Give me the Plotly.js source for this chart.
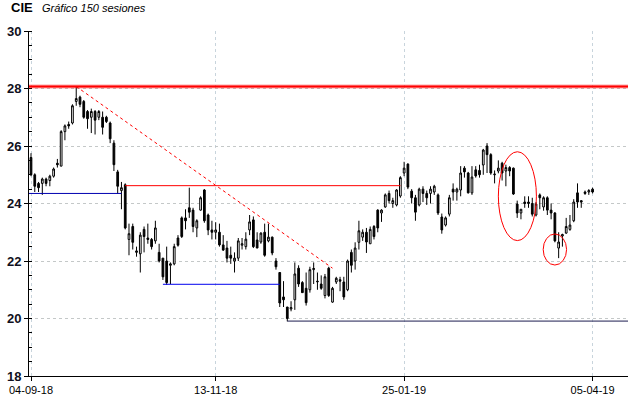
<!DOCTYPE html>
<html><head><meta charset="utf-8">
<script src="https://cdn.plot.ly/plotly-3.0.1.min.js"></script>
<style>html,body{margin:0;padding:0;background:#fff}#chart{width:640px;height:398px}</style>
</head><body><div id="chart"></div>
<script>
const opens = [25.6,25.0,24.7,24.7,24.85,24.8,24.95,25.4,25.3,26.5,26.75,26.8,27.55,27.7,27.55,27.2,27.0,27.2,27.0,27.0,27.0,26.8,26.1,25.1,24.45,24.65,22.75,23.2,22.3,22.25,23.1,22.8,22.75,22.7,22.3,22.1,22.0,21.85,21.9,22.8,23.5,23.5,23.85,23.77,23.15,23.77,24.47,23.6,23.08,23.0,23.0,22.56,22.45,22.2,22.0,22.1,22.55,22.5,23.08,23.43,22.73,22.66,23.0,22.7,22.83,22.0,21.6,20.75,20.4,20.33,20.65,21.75,21.25,21.05,21.0,21.7,21.3,21.2,20.8,21.75,20.57,21.27,21.35,21.27,21.0,22.3,22.0,22.65,22.83,23.0,22.6,23.2,23.77,23.67,23.88,24.35,24.0,23.95,24.26,25.06,25.37,24.43,24.2,23.95,24.5,24.35,24.35,24.4,24.3,23.53,23.25,23.63,24.5,24.4,24.47,25.23,25.06,24.37,25.17,25.15,25.34,26.0,25.7,25.0,25.13,25.4,25.13,25.25,25.23,23.98,23.67,24.05,24.0,24.0,23.6,24.3,23.88,24.2,23.77,23.67,22.45,22.87,22.97,23.1,23.4,24.37,24.1,24.4,24.4,24.5];
const highs = [25.75,25.05,24.75,24.9,24.9,25.0,25.25,25.55,26.55,26.75,26.85,27.45,28.05,27.75,27.6,27.25,27.3,27.25,27.25,27.2,27.05,26.85,26.2,25.17,24.75,24.7,23.3,23.3,22.5,23.0,23.2,23.3,22.8,23.4,22.6,22.1,22.5,21.95,22.6,22.9,23.55,23.8,24.55,23.85,23.45,24.25,24.5,23.65,23.4,23.35,23.3,22.9,22.7,22.5,22.3,22.8,22.8,23.0,23.6,23.55,23.0,23.0,23.3,23.3,22.85,22.1,21.6,21.3,20.4,20.6,21.95,21.85,21.3,21.6,21.8,21.95,21.6,21.5,21.55,21.8,21.1,21.45,21.45,21.45,22.05,22.4,22.65,23.4,23.1,23.15,23.2,23.25,23.8,23.8,24.35,24.45,24.2,24.5,24.95,25.45,25.4,24.5,24.3,24.55,24.6,24.45,24.6,24.65,24.35,23.65,23.55,24.3,24.7,24.55,25.3,25.3,25.1,25.3,25.3,25.35,25.9,26.1,25.75,25.15,25.5,25.45,25.35,25.3,25.25,24.1,23.8,24.25,24.25,24.2,24.05,24.35,24.25,24.25,24.0,23.7,23.0,22.95,23.5,23.6,24.15,24.7,24.1,24.45,24.5,24.55];
const lows = [24.95,24.4,24.4,24.3,24.6,24.6,24.9,25.25,25.3,26.2,26.6,26.75,27.4,27.35,26.95,26.6,26.45,26.4,26.9,26.4,26.8,26.1,25.13,24.33,23.8,23.1,22.2,22.4,22.15,21.6,22.3,22.6,22.4,22.6,21.95,21.34,21.17,21.2,21.85,22.5,22.8,23.1,23.5,23.0,22.83,23.75,23.33,22.9,22.75,22.75,22.5,22.35,21.95,21.9,21.6,22.0,22.4,22.4,22.9,22.45,22.45,22.6,22.15,22.65,22.2,21.7,20.4,20.4,19.9,20.25,20.3,21.1,20.9,20.45,20.9,21.2,21.0,21.0,20.7,20.75,20.55,21.2,20.95,20.65,20.95,21.6,21.7,22.4,22.7,22.28,22.6,22.75,23.0,23.36,23.85,24.0,23.85,23.9,24.2,24.95,24.5,24.0,23.4,23.9,24.05,23.95,24.0,24.3,23.6,22.95,23.2,23.55,24.1,24.1,24.25,24.9,24.35,24.3,24.9,24.9,25.0,25.06,25.0,24.7,25.05,24.8,24.6,24.95,24.3,23.5,23.45,23.85,23.85,23.55,23.55,23.8,23.75,23.6,23.45,22.65,22.1,22.5,22.95,23.05,23.35,23.85,23.85,24.3,24.3,24.35];
const closes = [25.0,24.6,24.55,24.85,24.7,24.95,25.2,25.35,26.5,26.7,26.7,27.4,27.65,27.45,27.0,26.95,27.2,26.9,27.2,26.65,26.85,26.25,25.35,24.6,24.55,23.15,22.95,22.65,22.35,22.9,22.85,22.75,22.5,23.15,22.0,21.45,21.25,21.9,22.5,22.55,22.85,23.4,23.7,23.2,23.4,24.2,23.4,23.08,23.0,23.08,22.56,22.38,22.1,22.1,22.1,22.7,22.6,22.76,23.36,22.5,22.45,22.97,22.2,22.83,22.28,21.8,20.54,20.65,20.0,20.38,21.55,21.2,20.9,20.55,21.7,21.74,21.28,21.05,21.45,20.8,21.05,21.4,21.3,20.75,22.0,21.85,22.45,23.05,23.0,22.66,23.1,22.85,23.15,23.77,24.3,24.1,24.1,24.47,24.9,25.23,24.57,24.2,23.7,24.5,24.35,24.2,24.5,24.6,23.67,23.08,23.5,24.2,24.4,24.5,25.06,25.1,24.37,24.92,24.96,25.0,25.86,25.7,25.06,25.02,25.23,25.06,25.25,25.13,24.33,23.67,23.8,24.0,24.05,23.63,23.98,24.2,24.2,23.77,23.67,22.7,22.66,22.92,23.2,23.25,24.05,24.05,24.05,24.35,24.45,24.4];

const tickIdx = [0, 49, 99, 149];
const tickLabels = ['04-09-18', '13-11-18', '25-01-19', '05-04-19'];
const yTicks = [18, 20, 22, 24, 26, 28, 30];

// support / resistance levels: [startIndex, endIndex, price]
const maxLevel = [-1, 160, 28.07];
const resistLevel = [25, 98, 24.62];
const supportEarly = [-1, 24, 24.35];
const supportMid = [35, 66, 21.19];
const supportLow = [68, 160, 19.91];
const trendLine = [[12, 80], [28.07, 21.75]];
// highlighted zones: [x0, x1, y0, y1]
const bigEllipse = [124, 134.1, 22.71, 25.8];
const smallCircle = [135.9, 142.1, 21.86, 22.94];

const xs = opens.map((_, i) => i);

const trace = {
  type: 'candlestick', x: xs, open: opens, high: highs, low: lows, close: closes,
  increasing: {line: {color: '#000', width: 1}, fillcolor: '#fff'},
  decreasing: {line: {color: '#000', width: 1}, fillcolor: '#000'},
  whiskerwidth: 0, hoverinfo: 'skip', showlegend: false
};

function hline(l, color, width, dash) {
  return {type: 'line', xref: 'x', yref: 'y', x0: l[0], x1: l[1], y0: l[2], y1: l[2],
          line: {color: color, width: width, dash: dash || 'solid'}, layer: 'above'};
}

const shapes = [
  hline(maxLevel, 'rgba(255,0,0,0.35)', 4),
  hline(maxLevel, '#ff0000', 2),
  hline(resistLevel, '#ff0000', 1),
  hline(supportEarly, '#0000b0', 1),
  hline(supportMid, '#0000ee', 1),
  hline(supportLow, '#1c1c50', 1),
  {type: 'line', xref: 'x', yref: 'y', x0: trendLine[0][0], x1: trendLine[0][1], y0: trendLine[1][0], y1: trendLine[1][1],
   line: {color: '#ff0000', width: 1, dash: 'dot'}, layer: 'above'},
  {type: 'circle', xref: 'x', yref: 'y', x0: bigEllipse[0], x1: bigEllipse[1], y0: bigEllipse[2], y1: bigEllipse[3],
   line: {color: '#ff0000', width: 1}, layer: 'above'},
  {type: 'circle', xref: 'x', yref: 'y', x0: smallCircle[0], x1: smallCircle[1], y0: smallCircle[2], y1: smallCircle[3],
   line: {color: '#ff0000', width: 1}, layer: 'above'}
];

const layout = {
  width: 640, height: 398,
  margin: {l: 29, r: 12, t: 31, b: 22, pad: 0},
  paper_bgcolor: '#fff', plot_bgcolor: '#fff',
  showlegend: false, boxgap: 0.35,
  xaxis: {
    range: [-0.53, 158.4], rangeslider: {visible: false},
    tickmode: 'array', tickvals: tickIdx, ticktext: tickLabels,
    showline: true, linecolor: '#000', linewidth: 1,
    ticks: 'outside', ticklen: 4, tickcolor: '#000',
    showgrid: true, gridcolor: '#c8d4dc', griddash: 'dot', gridwidth: 1,
    zeroline: false,
    tickfont: {family: 'Liberation Sans, Arial, sans-serif', size: 11, color: '#000'}
  },
  yaxis: {
    range: [18, 30], tickmode: 'array', tickvals: yTicks,
    showline: true, linecolor: '#000', linewidth: 1,
    ticks: 'outside', ticklen: 4, tickcolor: '#000',
    minor: {dtick: 0.5, ticks: 'inside', ticklen: 3, tickcolor: '#000', showgrid: false},
    showgrid: true, gridcolor: '#c4c8c8', griddash: 'dot', gridwidth: 1,
    zeroline: false,
    tickfont: {family: 'Liberation Sans, Arial, sans-serif', size: 13, color: '#101020', weight: 'bold'}
  },
  shapes: shapes,
  annotations: [
    {xref: 'paper', yref: 'paper', x: -0.033, y: 1.0, yshift: 24, xanchor: 'left', yanchor: 'middle', showarrow: false,
     text: '<b>CIE</b>', font: {family: 'Liberation Sans, Arial, sans-serif', size: 13, color: '#000'}},
    {xref: 'paper', yref: 'paper', x: 0.018, y: 1.0, yshift: 23, xanchor: 'left', yanchor: 'middle', showarrow: false,
     text: '<i>Gráfico 150 sesiones</i>', font: {family: 'Liberation Sans, Arial, sans-serif', size: 11, color: '#000'}}
  ]
};

Plotly.newPlot('chart', [trace], layout, {staticPlot: true, displayModeBar: false});
</script>
</body></html>
